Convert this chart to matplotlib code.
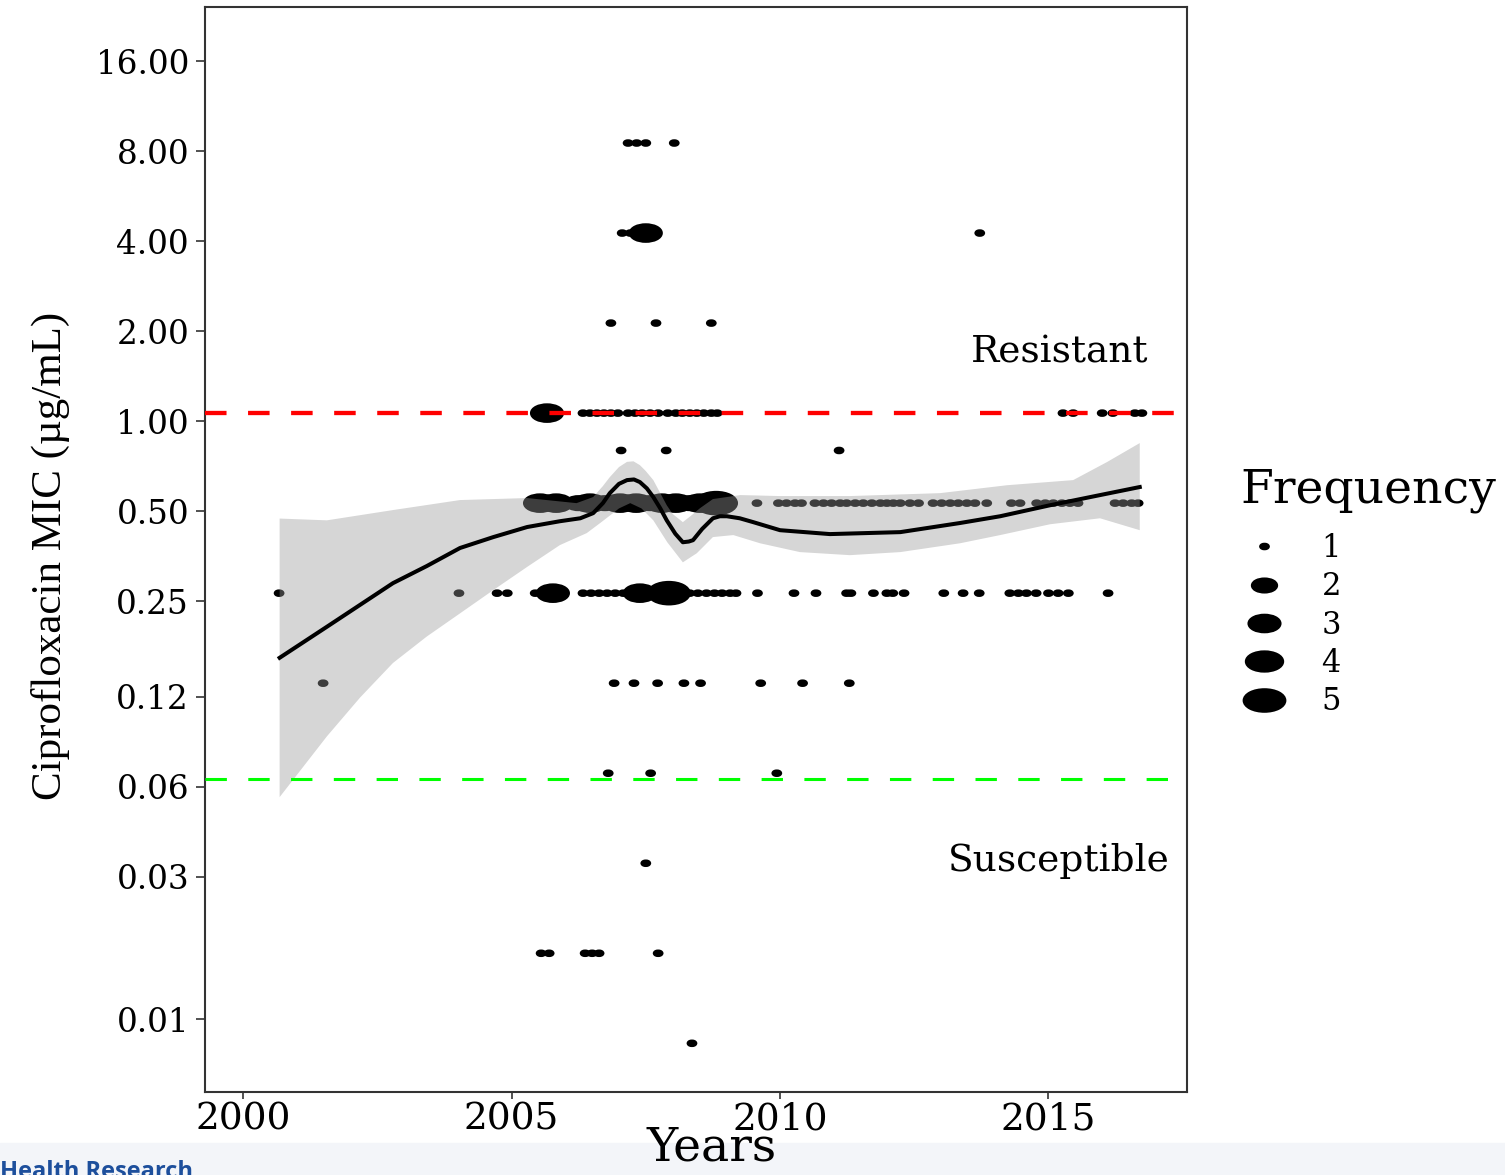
#coding:utf8

import numpy as np
import matplotlib.pyplot as plt
from matplotlib.path import Path
from matplotlib.lines import Line2D
from matplotlib.patches import Rectangle

#Données : pour chaque niveau de CMI (µg/mL), années et fréquences des points
annees_8 = [2007.17, 2007.33, 2007.50, 2008.03]
freq_8 = [1, 1, 1, 1]

annees_4 = [2007.06, 2007.21, 2007.50, 2013.72]
freq_4 = [1, 1, 3, 1]

annees_2 = [2006.85, 2007.69, 2008.72]
freq_2 = [1, 1, 1]

annees_1 = [2005.66, 2006.33, 2006.46, 2006.59, 2006.72, 2006.85, 2006.98, 2007.17,
            2007.30, 2007.43, 2007.58, 2007.73, 2007.91, 2008.06, 2008.18, 2008.32,
            2008.45, 2008.58, 2008.72, 2008.83, 2015.27, 2015.46, 2016.00, 2016.20,
            2016.61, 2016.74]
freq_1 = [3] + [1] * 25

annees_075 = [2007.04, 2007.88, 2011.10]
freq_075 = [1, 1, 1]

annees_05 = [2005.53, 2005.83, 2006.24, 2006.46, 2006.74, 2007.02, 2007.32, 2007.58,
             2007.80, 2008.06, 2008.32, 2008.51, 2008.81,
             2009.57, 2009.97, 2010.12, 2010.28, 2010.40, 2010.65, 2010.81, 2010.96,
             2011.12, 2011.24, 2011.40, 2011.55, 2011.71, 2011.87, 2011.99, 2012.11,
             2012.24, 2012.42, 2012.58, 2012.85, 2013.01, 2013.17, 2013.32, 2013.48,
             2013.63, 2013.85, 2014.31, 2014.47, 2014.78, 2014.94, 2015.09, 2015.25,
             2015.40, 2015.55, 2016.24, 2016.39, 2016.55, 2016.67]
freq_05 = [3, 3, 2, 3, 2, 3, 3, 2, 3, 3, 2, 3, 5] + [1] * 38

annees_025 = [2000.67, 2004.02, 2004.73, 2004.92, 2005.44, 2005.77, 2006.33, 2006.48,
              2006.63, 2006.78, 2006.93, 2007.08, 2007.23, 2007.39, 2007.93, 2008.15,
              2008.32, 2008.47, 2008.63, 2008.78, 2008.92, 2009.07, 2009.18,
              2009.58, 2010.26, 2010.67, 2011.24, 2011.32, 2011.74, 2011.99, 2012.10,
              2012.31, 2013.05, 2013.41, 2013.71, 2014.28, 2014.44, 2014.59, 2014.77,
              2015.00, 2015.18, 2015.37, 2016.11]
freq_025 = [1, 1, 1, 1, 1, 3, 1, 1, 1, 1, 1, 1, 1, 3, 5] + [1] * 28

annees_0125 = [2001.49, 2006.91, 2007.28, 2007.72, 2008.21, 2008.52, 2009.64, 2010.42, 2011.29]
freq_0125 = [1] * 9

annees_00625 = [2006.80, 2007.59, 2009.94]
freq_00625 = [1, 1, 1]

annees_003 = [2007.50]
freq_003 = [1]

annees_0015 = [2005.55, 2005.70, 2006.37, 2006.50, 2006.63, 2007.73]
freq_0015 = [1] * 6

annees_0008 = [2008.36]
freq_0008 = [1]

niveaux_cmi = [8, 4, 2, 1, 0.75, 0.5, 0.25, 0.125, 0.0625, 0.03125, 0.015625, 0.0078125]

#Courbe lissée (loess) et intervalle de confiance
lisse_x = [2000.68, 2001.56, 2002.79, 2003.42, 2004.04, 2004.66, 2005.29, 2005.90,
           2006.28, 2006.52, 2006.70, 2006.83, 2007.00, 2007.15, 2007.28, 2007.39,
           2007.52, 2007.64, 2007.77, 2007.89, 2008.05, 2008.19, 2008.30, 2008.38,
           2008.55, 2008.75, 2008.88, 2009.01, 2009.25, 2009.50, 2010.00, 2010.93,
           2012.24, 2013.35, 2014.10, 2015.03, 2015.96, 2016.70]
lisse_y = [0.152, 0.193, 0.270, 0.308, 0.354, 0.385, 0.416, 0.435,
           0.445, 0.463, 0.500, 0.540, 0.580, 0.597, 0.600, 0.588,
           0.560, 0.524, 0.480, 0.438, 0.395, 0.370, 0.372, 0.376,
           0.410, 0.445, 0.452, 0.452, 0.445, 0.432, 0.406, 0.394,
           0.400, 0.429, 0.452, 0.492, 0.532, 0.566]

haut_x = [2000.68, 2001.56, 2002.79, 2004.04, 2005.29, 2006.21, 2006.52, 2006.70,
          2006.83, 2007.00, 2007.15, 2007.27, 2007.39, 2007.50, 2007.64, 2007.77,
          2007.89, 2008.00, 2008.19, 2008.35, 2008.51, 2008.75, 2009.26,
          2010.00, 2011.30, 2012.98, 2014.23, 2015.46, 2016.09, 2016.70]
haut_y = [0.444, 0.438, 0.474, 0.512, 0.520, 0.500, 0.524, 0.570,
          0.611, 0.660, 0.687, 0.690, 0.670, 0.640, 0.597, 0.540,
          0.492, 0.460, 0.432, 0.455, 0.481, 0.516, 0.532,
          0.528, 0.528, 0.540, 0.574, 0.597, 0.686, 0.794]

bas_x = [2000.68, 2001.56, 2002.18, 2002.79, 2003.42, 2004.04, 2004.66, 2005.29,
         2005.90, 2006.40, 2006.65, 2006.89, 2007.00, 2007.21, 2007.42, 2007.64,
         2007.90, 2008.19, 2008.45, 2008.75, 2009.13, 2009.63, 2010.37, 2011.30,
         2012.24, 2013.35, 2014.10, 2015.03, 2015.96, 2016.70]
bas_y = [0.052, 0.083, 0.112, 0.146, 0.179, 0.214, 0.256, 0.306,
         0.362, 0.397, 0.429, 0.463, 0.480, 0.500, 0.480, 0.438,
         0.370, 0.317, 0.340, 0.385, 0.391, 0.367, 0.343, 0.335,
         0.343, 0.367, 0.391, 0.425, 0.445, 0.406]

seuil_resistant = 1.0
seuil_sensible = 0.06

ticks_y = [16, 8, 4, 2, 1, 0.5, 0.25, 0.12, 0.06, 0.03, 0.01]
labels_y = ["16.00", "8.00", "4.00", "2.00", "1.00", "0.50", "0.25", "0.12", "0.06", "0.03", "0.01"]
ticks_x = [2000, 2005, 2010, 2015]
freqs_legende = [1, 2, 3, 4, 5]


#Taille des points (échelle ggplot : aire proportionnelle, gamme 1-6)
def taillePoint(f):
    d = 1 + 5 * np.sqrt((np.asarray(f, dtype=float) - 1) / 4)
    return 6.6 * d * 0.72


cercle = Path.unit_circle()
ellipse = Path(cercle.vertices * [1, 1 / 1.94], cercle.codes)

groupes = [annees_8, annees_4, annees_2, annees_1, annees_075, annees_05,
           annees_025, annees_0125, annees_00625, annees_003, annees_0015, annees_0008]
annees = np.concatenate(groupes)
freqs = np.concatenate([freq_8, freq_4, freq_2, freq_1, freq_075, freq_05,
                        freq_025, freq_0125, freq_00625, freq_003, freq_0015, freq_0008])
cmi = np.concatenate([[niv] * len(g) for niv, g in zip(niveaux_cmi, groupes)])

serif = "DejaVu Serif"
fig = plt.figure(figsize=(15.05, 11.75), dpi=100)
ax = fig.add_axes([205 / 1505, 1 - 1092 / 1175, (1187 - 205) / 1505, (1092 - 7) / 1175])

ax.scatter(annees, cmi, s=taillePoint(freqs) ** 2, marker=ellipse, c="black",
           edgecolors="black", linewidths=3.0, zorder=2)
ax.fill(np.concatenate([haut_x, bas_x[::-1]]), np.concatenate([haut_y, bas_y[::-1]]),
        color="#999999", alpha=0.4, lw=0, zorder=3)
ax.plot(lisse_x, lisse_y, color="black", lw=2.9, zorder=4, solid_joinstyle="round")
ax.axhline(seuil_resistant, color="#ff0000", lw=3.1, dashes=(5, 5), zorder=5)
ax.axhline(seuil_sensible, color="#00ff00", lw=2.2, dashes=(7, 7), zorder=5)

ax.text(2015.2, 1.6, "Resistant", family=serif, fontsize=27, ha="center", va="center")
ax.text(2015.2, 0.0318, "Susceptible", family=serif, fontsize=27, ha="center", va="center")

ax.set_yscale("log", base=2)
ax.set_xlim(1999.29, 2017.58)
ax.set_ylim(0.00537, 22.8)
#les graduations de l'original sont légèrement décalées sous les rangées de points
ax.set_yticks(np.array(ticks_y) * 0.94)
ax.set_yticklabels(labels_y)
ax.yaxis.set_minor_locator(plt.NullLocator())
ax.set_xticks(ticks_x)
ax.tick_params(axis="y", labelsize=23.5, length=6.5, width=1.2, color="#333333", pad=5)
ax.tick_params(axis="x", labelsize=27, length=5, width=1.2, color="#333333", pad=2)
for lab in ax.get_xticklabels() + ax.get_yticklabels():
    lab.set_family(serif)
for sp in ax.spines.values():
    sp.set_color("#333333")
    sp.set_linewidth(1.5)

ax.set_xlabel("Years", family=serif, fontsize=34)
ax.xaxis.set_label_coords(0.516, -0.031)
ax.set_ylabel("Ciprofloxacin MIC (µg/mL)", family="Liberation Serif", fontsize=31)
ax.yaxis.set_label_coords(-0.1375, 0.494)

#légende des fréquences
fig.text(1240 / 1505, 1 - 490 / 1175, "Frequency", family=serif, fontsize=34,
         ha="left", va="center")
poignees = [Line2D([], [], ls="", marker=ellipse, ms=taillePoint(f), mfc="black",
                   mec="black", mew=3.0) for f in freqs_legende]
fig.legend(poignees, [str(f) for f in freqs_legende],
           loc="upper left", bbox_to_anchor=(1233 / 1505, 1 - 533 / 1175),
           frameon=False, prop={"family": serif, "size": 22},
           labelspacing=0.24, handletextpad=0.9, borderpad=0, borderaxespad=0,
           handlelength=2)

#bandeau du bas (capture d'écran d'origine)
fig.patches.append(Rectangle((0, 0), 1, 32 / 1175, transform=fig.transFigure,
                             color="#f3f5f9", zorder=-1))
fig.text(0.0, 0.0128, "Health Research", family="Open Sans", weight="bold",
         fontsize=17, color="#1d4f9c", va="top", ha="left")

fig.savefig("out.png", dpi=100)
